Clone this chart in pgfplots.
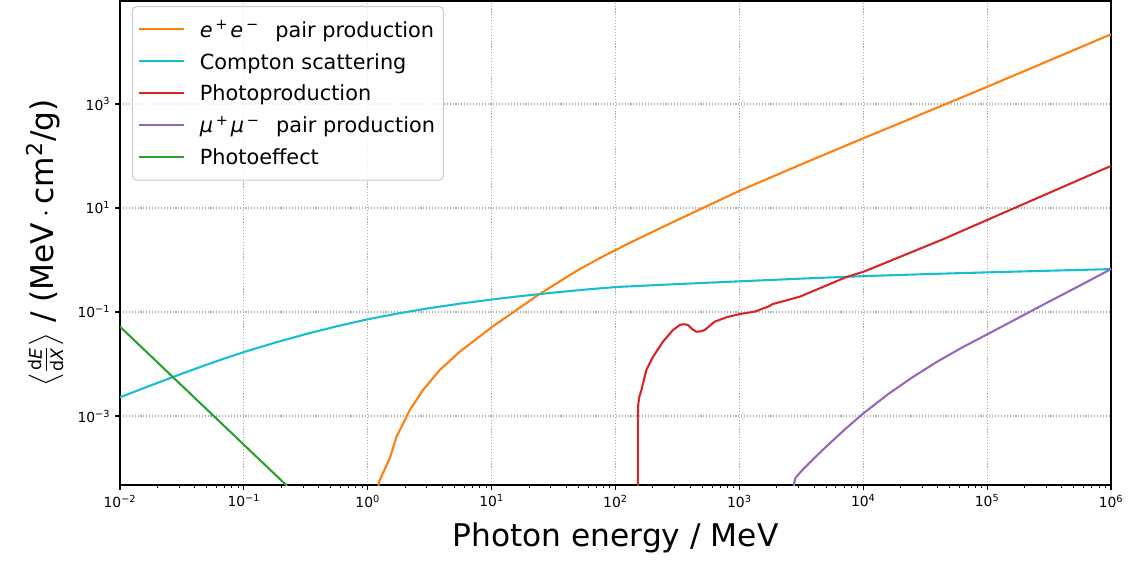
\documentclass[border=0pt]{standalone}
\usepackage{amsmath}
\usepackage{fontspec}
\setmainfont{DejaVu Sans}
\usepackage{pgfplots}
\pgfplotsset{compat=1.18}

\definecolor{taborange}{HTML}{FF7F0E}
\definecolor{tabcyan}{HTML}{17BECF}
\definecolor{tabred}{HTML}{D62728}
\definecolor{tabpurple}{HTML}{9467BD}
\definecolor{tabgreen}{HTML}{2CA02C}

\begin{document}
\begin{tikzpicture}
\begin{axis}[
  scale only axis,
  width=713.5pt, height=348.5pt,
  xmode=log, ymode=log,
  xmin=1e-2, xmax=1e6,
  ymin=4.71e-5, ymax=9.57e4,
  xtickten={-2,-1,0,1,2,3,4,5,6},
  xticklabels={10\textsuperscript{−2},10\textsuperscript{−1},10\textsuperscript{0},10\textsuperscript{1},10\textsuperscript{2},10\textsuperscript{3},10\textsuperscript{4},10\textsuperscript{5},10\textsuperscript{6}},
  ytickten={-3,-1,1,3},
  yticklabels={10\textsuperscript{−3},10\textsuperscript{−1},10\textsuperscript{1},10\textsuperscript{3}},
  yminorticks=false,
  tick pos=left,
  tick align=outside,
  major tick length=3.5pt,
  minor tick length=2pt,
  every tick/.style={black, line width=0.8pt},
  minor tick style={black, line width=0.6pt},
  axis line style={line width=0.8pt},
  tick label style={font=\fontsize{10}{12}\selectfont},
  grid=major,
  major grid style={black!32, line width=0.8pt, dash pattern=on 0.8pt off 1.3pt},
  xlabel={Photon energy / MeV},
  xlabel style={font=\fontsize{22.5}{27}\selectfont, at={(axis description cs:0.5,0)}, anchor=base, yshift=-44pt},
  ylabel={$\left\langle\frac{\text{\fontsize{12.5}{13}\selectfont d\textit{E}}}{\text{\fontsize{12.5}{13}\selectfont d\textit{X}}}\right\rangle$ / (MeV\,$\cdot$\,cm\textsuperscript{2}/g)},
  ylabel style={font=\fontsize{22.5}{27}\selectfont, at={(axis description cs:-0.0673,0.5)}, anchor=base},
  legend cell align=left,
  legend style={
    at={(0,1)}, anchor=north west, xshift=8.6pt, yshift=-3.6pt,
    font=\fontsize{15}{18}\selectfont,
    draw=black!20, line width=0.8pt, fill=white, fill opacity=0.8, text opacity=1,
    rounded corners=3pt,
    inner xsep=4pt, inner ysep=6.5pt,
    row sep=3pt,
    nodes={inner sep=2pt, text height=13.5pt, text depth=2.5pt},
    /tikz/every odd column/.append style={column sep=9pt},
  },
  legend image code/.code={\draw[#1, line width=1.5pt] (0pt,0pt) -- (32pt,0pt);},
]

% e+ e- pair production
\addplot[taborange, line width=1.5pt] table {
x y
1.148 1.26e-5
1.233 5.46e-5
1.507 1.55e-4
1.706 3.98e-4
2.183 1.30e-3
2.793 3.16e-3
3.811 7.67e-3
5.534 1.726e-2
10.14 5.22e-2
15.85 0.1091
23.71 0.2123
37.76 0.4256
49.89 0.6427
79.43 1.175
130.3 2.138
316.2 5.89
1000 21.38
3162 69.18
10000 218.8
19680 426.6
100000 2138
1000000 21878
};
\addlegendentry{\textit{e}\hspace{2pt}\textsuperscript{+}\hspace{1.5pt}\textit{e}\hspace{2pt}\textsuperscript{−}\hspace{7pt} pair production}

% Compton scattering
\addplot[tabcyan, line width=1.5pt] table {
x y
0.01 2.291e-3
0.01778 3.890e-3
0.03162 6.531e-3
0.05623 1.072e-2
0.1 1.698e-2
0.1778 2.570e-2
0.3162 3.758e-2
0.5623 5.309e-2
1 7.244e-2
1.778 9.441e-2
3.162 0.1189
5.623 0.1454
10 0.1738
17.78 0.2042
31.62 0.2358
56.23 0.2692
100 0.3020
316.2 0.3443
1000 0.3890
3162 0.4385
10000 0.4898
31620 0.5346
100000 0.5781
316200 0.6223
1000000 0.6683
};
\addlegendentry{Compton scattering}

% Photoproduction
\addplot[tabred, line width=1.5pt] table {
x y
151.7 1e-6
151.7 1.12e-3
152.4 1.585e-3
154.9 2.239e-3
161.8 3.16e-3
177.4 7.67e-3
200.9 1.380e-2
241.5 2.685e-2
291.1 4.508e-2
329.6 5.623e-2
354.8 5.82e-2
384.6 5.623e-2
416.9 4.677e-2
449.8 4.178e-2
489.8 4.266e-2
524.8 4.508e-2
631 6.516e-2
785.2 7.907e-2
1004.6 9.16e-2
1327 0.1014
1702 0.1265
1866 0.1426
3069 0.1968
7211 0.4645
10070 0.5957
42660 2.427
100000 5.888
1000000 64.57
};
\addlegendentry{Photoproduction}

% mu+ mu- pair production
\addplot[tabpurple, line width=1.5pt] table {
x y
2570 2.0e-5
2818 6.31e-5
3162 8.71e-5
3981 1.514e-4
5012 2.570e-4
7079 5.495e-4
10000 1.122e-3
15850 2.630e-3
25120 5.623e-3
39810 1.122e-2
63100 2.089e-2
100000 3.715e-2
177800 7.674e-2
316200 0.1585
562300 0.3236
1000000 0.6683
};
\addlegendentry{\textit{μ}\hspace{2pt}\textsuperscript{+}\hspace{1.5pt}\textit{μ}\hspace{2pt}\textsuperscript{−}\hspace{7pt} pair production}

% Photoeffect
\addplot[tabgreen, line width=1.5pt] table {
x y
0.01 5.224e-2
0.3162 2.056e-5
};
\addlegendentry{Photoeffect}

\end{axis}
\pgfresetboundingbox
\path ([shift={(-86.4pt,-54.7pt)}]current axis.south west) rectangle ([shift={(18.7pt,0.7pt)}]current axis.north east);
\end{tikzpicture}
\end{document}
